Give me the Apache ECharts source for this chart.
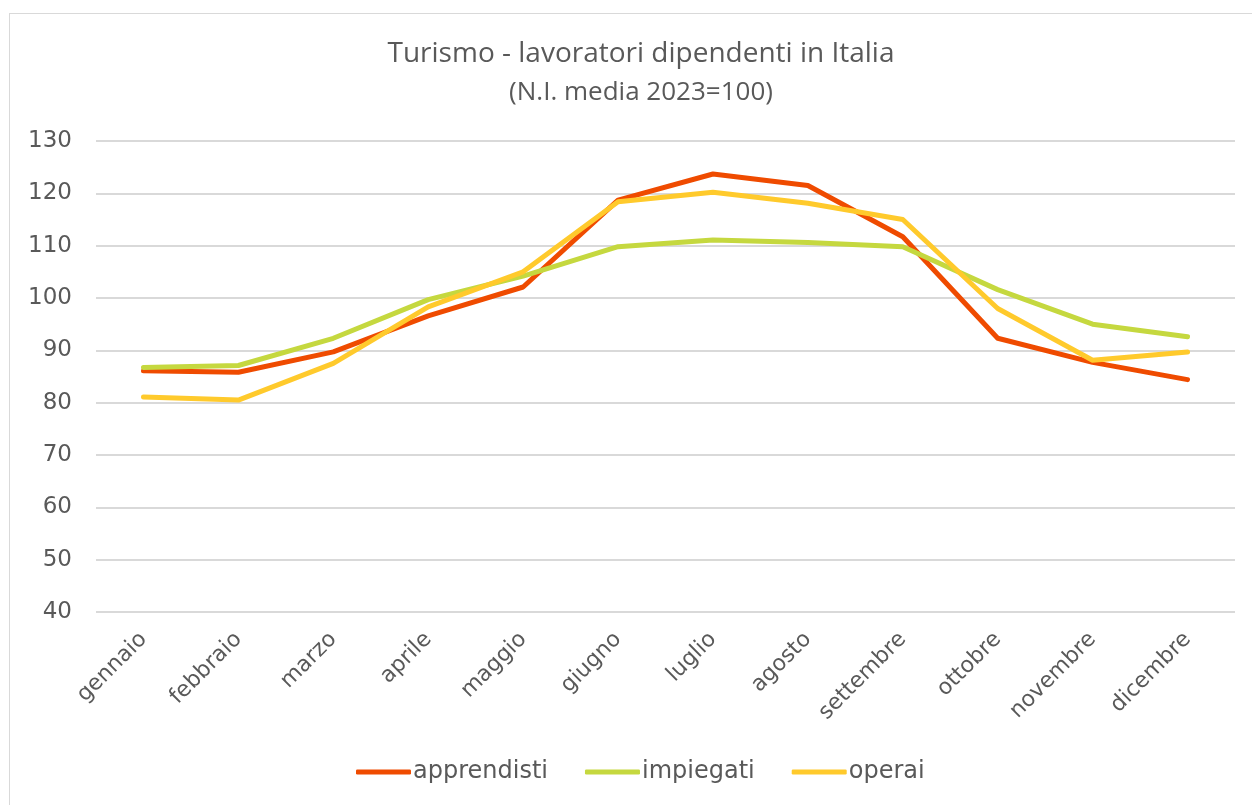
<!DOCTYPE html>
<html>
<head>
<meta charset="utf-8">
<script src="https://cdn.jsdelivr.net/npm/echarts@6/dist/echarts.min.js"></script>
<style>
    html, body { margin: 0; padding: 0; background: #fff; }
    .frame { position: absolute; left: 9px; top: 13px; width: 1260px; height: 820px; border: 1px solid #d9d9d9; box-sizing: border-box; }
    #chart { position: absolute; left: 0; top: 0; width: 1252px; height: 805px; }
</style>
</head>
<body>
<div class="frame"></div>
<div id="chart"></div>
<script>
    // mesi sull'asse x
    var months = ['gennaio', 'febbraio', 'marzo', 'aprile', 'maggio', 'giugno',
                  'luglio', 'agosto', 'settembre', 'ottobre', 'novembre', 'dicembre'];
    // numeri indice, media 2023 = 100
    var apprendisti = [86.1, 85.8, 89.7, 96.6, 102.1, 118.7, 123.7, 121.5, 111.7, 92.3, 87.7, 84.4];
    var impiegati   = [86.7, 87.1, 92.3, 99.7, 104.2, 109.8, 111.1, 110.6, 109.8, 101.6, 95.0, 92.6];
    var operai      = [81.1, 80.5, 87.5, 98.3, 105.0, 118.4, 120.2, 118.1, 115.0, 98.0, 88.1, 89.7];

    var font = 'DejaVu Sans';
    var titleFont = 'Open Sans';
    var txt = '#595959';

    var chart = echarts.init(document.getElementById('chart'));
    chart.setOption({
        animation: false,
        title: [
            {
                text: 'Turismo - lavoratori dipendenti in Italia',
                left: 636, top: 35, textAlign: 'center',
                textStyle: { fontFamily: titleFont, fontSize: 28, fontWeight: 'normal', color: txt }
            },
            {
                text: '(N.I. media 2023=100)',
                left: 636, top: 75, textAlign: 'center',
                textStyle: { fontFamily: titleFont, fontSize: 26, fontWeight: 'normal', color: txt }
            }
        ],
        legend: {
            bottom: 16,
            left: 351,
            icon: 'roundRect',
            itemWidth: 55,
            itemHeight: 5,
            itemGap: 37,
            textStyle: { fontFamily: font, fontSize: 24, color: txt, padding: [0, 0, 0, -3] },
            data: ['apprendisti', 'impiegati', 'operai']
        },
        grid: { left: 96, right: 17, top: 141, bottom: 193, containLabel: false },
        xAxis: {
            type: 'category',
            data: months,
            boundaryGap: true,
            axisLine: { show: false },
            axisTick: { show: false },
            axisLabel: { rotate: 45, margin: 24, fontFamily: font, fontSize: 22, color: txt, interval: 0 }
        },
        yAxis: {
            type: 'value',
            min: 40, max: 130, interval: 10,
            axisLine: { show: false },
            axisTick: { show: false },
            axisLabel: { margin: 24, fontFamily: font, fontSize: 23, color: txt },
            splitLine: { lineStyle: { color: '#d9d9d9', width: 2 } }
        },
        series: [
            { name: 'apprendisti', type: 'line', data: apprendisti, showSymbol: false,
              itemStyle: { color: '#ef4b00' }, lineStyle: { width: 5, color: '#ef4b00', cap: 'round', join: 'round' } },
            { name: 'impiegati', type: 'line', data: impiegati, showSymbol: false,
              itemStyle: { color: '#c5d83f' }, lineStyle: { width: 5, color: '#c5d83f', cap: 'round', join: 'round' } },
            { name: 'operai', type: 'line', data: operai, showSymbol: false,
              itemStyle: { color: '#ffca2c' }, lineStyle: { width: 5, color: '#ffca2c', cap: 'round', join: 'round' } }
        ]
    });
</script>
</body>
</html>
